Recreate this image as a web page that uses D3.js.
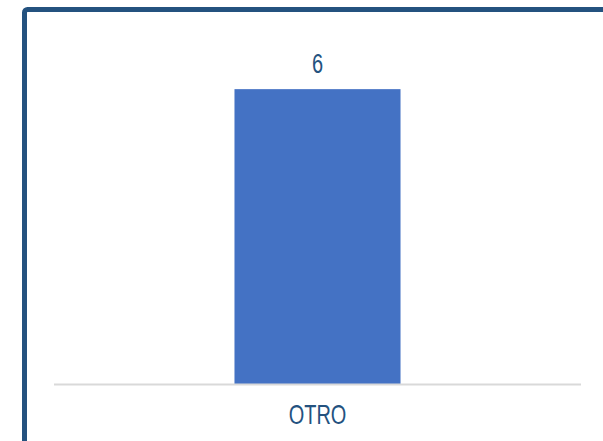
<!DOCTYPE html>
<html>
<head>
<meta charset="utf-8">
<style>
body { margin: 0; background: #fff; }
</style>
</head>
<body></body>
<script src="https://d3js.org/d3.v7.min.js"></script>
<script>

var categories = ["OTRO"];
var values = [6];

var W = 603, H = 441;
var margin = { top: 40, left: 54, right: 22, bottom: 57 };
var plotRight = W - margin.right, plotBottom = H - margin.bottom;
var narrow = 0.74; // squeeze Liberation Sans toward Arial Narrow

var svg = d3.select("body").append("svg")
	.attr("width", W)
	.attr("height", H);

// outer frame (runs past the right and bottom edges)
svg.append("rect")
	.attr("x", 24.5)
	.attr("y", 9.5)
	.attr("width", 700)
	.attr("height", 600)
	.attr("rx", 3)
	.attr("fill", "none")
	.attr("stroke", "#24527f")
	.attr("stroke-width", 5);

// title, mostly cut off above the frame
svg.append("text")
	.attr("x", 308)
	.attr("y", -5)
	.attr("text-anchor", "middle")
	.attr("font-family", "Liberation Sans, Arial, sans-serif")
	.attr("font-size", 20)
	.attr("fill", "#24527f")
	.text("g");

var x = d3.scaleBand()
	.domain(categories)
	.range([margin.left, plotRight])
	.paddingInner(0)
	.paddingOuter(1.087);

var y = d3.scaleLinear()
	.domain([0, 7])
	.range([plotBottom, margin.top]);

svg.append("g").selectAll("rect")
	.data(values)
	.enter().append("rect")
	.attr("x", (d, i) => x(categories[i]))
	.attr("y", d => y(d))
	.attr("width", x.bandwidth())
	.attr("height", d => y(0) - y(d))
	.attr("fill", "#4472c4");

// baseline
svg.append("line")
	.attr("x1", margin.left)
	.attr("x2", plotRight)
	.attr("y1", y(0) + 0.5)
	.attr("y2", y(0) + 0.5)
	.attr("stroke", "#d9d9d9")
	.attr("stroke-width", 2);

// value labels
svg.append("g").selectAll("text")
	.data(values)
	.enter().append("text")
	.attr("transform", (d, i) => "translate(" + (x(categories[i]) + x.bandwidth() / 2) + "," + (y(d) - 16) + ") scale(" + narrow + ",1)")
	.attr("text-anchor", "middle")
	.attr("font-family", "Liberation Sans, Arial, sans-serif")
	.attr("font-size", 27)
	.attr("fill", "#24527f")
	.text(d => d);

// category axis labels
svg.append("g").selectAll("text")
	.data(categories)
	.enter().append("text")
	.attr("transform", d => "translate(" + (x(d) + x.bandwidth() / 2) + "," + (plotBottom + 40) + ") scale(" + narrow + ",1)")
	.attr("text-anchor", "middle")
	.attr("font-family", "Liberation Sans, Arial, sans-serif")
	.attr("font-size", 27)
	.attr("fill", "#24527f")
	.text(d => d);

</script>
</html>
